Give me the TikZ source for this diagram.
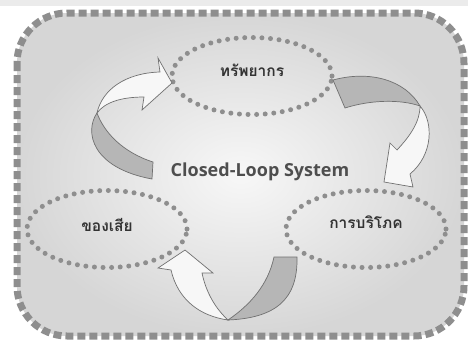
\documentclass[tikz,border=0pt]{standalone}
\usepackage{fontspec}
\setmainfont{Open Sans}
\newfontfamily\thaifont[Script=Thai]{Loma}
\usepackage{xcolor}
\usepackage{tikz}
\usetikzlibrary{calc}
\usetikzlibrary{shapes.geometric}
\newcommand{\RingW}{160pt}
\newcommand{\RingH}{77pt}
\definecolor{dotgray}{HTML}{8E8E8E}
\definecolor{ribbongray}{HTML}{B6B6B6}
\definecolor{edgegray}{HTML}{707070}
\definecolor{titlegray}{HTML}{4E4E4E}
\definecolor{thaigray}{HTML}{333333}
\tikzset{
  ring/.style={ellipse, minimum width=\RingW, minimum height=\RingH, inner sep=0pt,
    draw=dotgray, line width=5pt, line cap=round, dash pattern=on 0pt off 8.6pt},
  ringtext/.style={text=thaigray, font=\thaifont\bfseries\fontsize{15.5}{18}\selectfont},
  backpart/.style={draw=edgegray, line width=0.7pt, fill=ribbongray},
  frontpart/.style={draw=edgegray, line width=0.7pt, fill=white!97!black},
}

\begin{document}
\begin{tikzpicture}[x=1pt,y=-1pt]
\useasboundingbox (0,0) rectangle (468,343);
\fill[white] (0,0) rectangle (468,343);
\fill[gray!16] (0,0) rectangle (468,6);

\shade[inner color=white!97!black, outer color=white!84!black, rounded corners=50pt]
  (17,13) rectangle (464,336);% Panel
\draw[dotgray, line width=7pt, dash pattern=on 8pt off 4pt, rounded corners=50pt]
  (17,13) rectangle (464,336);% Panel border

\node[ring] (res) at (252,76) {};
\node[ringtext] at (252,70) {ทรัพยากร};
\node[ring] (waste) at (107,229) {};
\node[ringtext] at (107,225) {ของเสีย};
\node[ring] (use) at (366,229) {};
\node[ringtext] at (366,222) {การบริโภค};

\node[text=titlegray, font=\bfseries\fontsize{18}{21}\selectfont] (title) at (260,172) {Closed-Loop System};

% waste -> resources
\coordinate (A) at (97,113);
\coordinate (B) at (160,72);
\coordinate (C) at (158,58);
\coordinate (D) at (172,83);
\coordinate (E) at (142,110);
\coordinate (F) at (144,97);
\coordinate (G) at (152,179);
\coordinate (H) at (153,162);
\draw[backpart] (A) .. controls (84,132) and (92,168) .. (G) -- (H) .. controls (122,152) and (104,132) .. (A) -- cycle;% Back
\draw[frontpart] (A) .. controls (102,90) and (125,73) .. (B) -- (C) -- (D) -- (E) -- (F) .. controls (122,97) and (105,102) .. (A) -- cycle;% Front

% resources -> consumption
\coordinate (A) at (420,106);
\coordinate (B) at (410,174);
\coordinate (C) at (413,187);
\coordinate (D) at (384,182);
\coordinate (E) at (390,143);
\coordinate (F) at (397,150);
\coordinate (G) at (333,80);
\coordinate (H) at (345,108);
\draw[backpart] (G) .. controls (370,70) and (405,80) .. (A) .. controls (400,99) and (370,100) .. (H) -- cycle;% Back
\draw[frontpart] (A) .. controls (434,122) and (433,155) .. (B) -- (C) -- (D) -- (E) -- (F) .. controls (410,136) and (420,122) .. (A) -- cycle;% Front

% consumption -> waste
\coordinate (A) at (228,320);
\coordinate (B) at (171,270);
\coordinate (C) at (158,268);
\coordinate (D) at (185,250);
\coordinate (E) at (213,273);
\coordinate (F) at (202,273);
\coordinate (G) at (297,257);
\coordinate (H) at (274,257);
\draw[backpart] (G) .. controls (298,300) and (275,318) .. (A) .. controls (250,305) and (268,285) .. (H) -- cycle;% Back
\draw[frontpart] (A) .. controls (200,316) and (178,300) .. (B) -- (C) -- (D) -- (E) -- (F) .. controls (206,292) and (215,308) .. (A) -- cycle;% Front
\end{tikzpicture}
\end{document}
